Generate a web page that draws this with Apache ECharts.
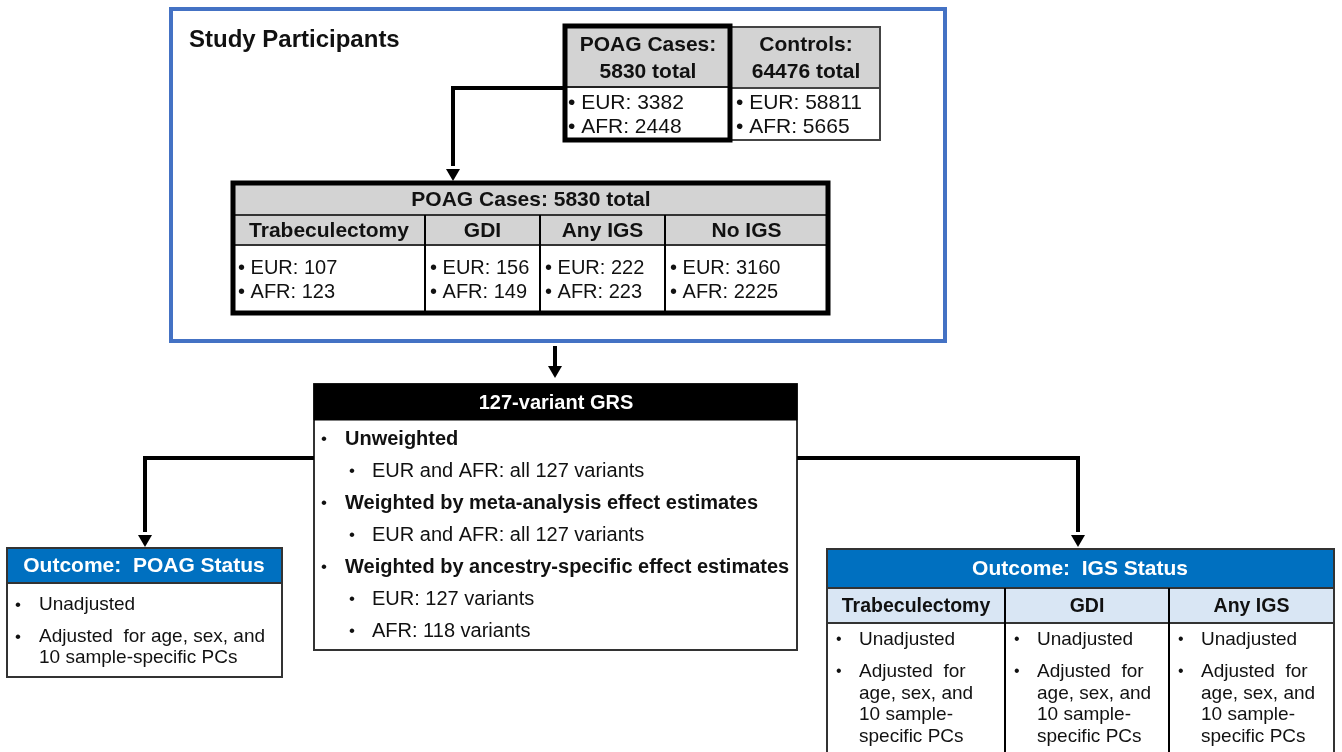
<!DOCTYPE html>
<html>
<head>
<meta charset="utf-8">
<script src="https://cdn.jsdelivr.net/npm/echarts@6/dist/echarts.min.js"></script>
<style>
  html, body { margin: 0; padding: 0; background: #fff; }
  #chart { width: 1342px; height: 752px; }
</style>
</head>
<body>
<div id="chart"></div>
<script>
// ---- data (text of the flow chart) ----
const studyTitle = 'Study Participants';
const caseHeader = ['POAG Cases:', '5830 total'];
const caseCounts = ['EUR: 3382', 'AFR: 2448'];
const controlHeader = ['Controls:', '64476 total'];
const controlCounts = ['EUR: 58811', 'AFR: 5665'];
const subgroupTitle = 'POAG Cases: 5830 total';
const subgroups = ['Trabeculectomy', 'GDI', 'Any IGS', 'No IGS'];
const subgroupEUR = [107, 156, 222, 3160];
const subgroupAFR = [123, 149, 223, 2225];
const grsTitle = '127-variant GRS';
const grsLevels = [0, 1, 0, 1, 0, 1, 1];
const grsItems = [
  'Unweighted',
  'EUR and AFR: all 127 variants',
  'Weighted by meta-analysis effect estimates',
  'EUR and AFR: all 127 variants',
  'Weighted by ancestry-specific effect estimates',
  'EUR: 127 variants',
  'AFR: 118 variants'
];
const poagTitle = 'Outcome:  POAG Status';
const poagItems = ['Unadjusted', 'Adjusted  for age, sex, and\n10 sample-specific PCs'];
const igsTitle = 'Outcome:  IGS Status';
const igsGroups = ['Trabeculectomy', 'GDI', 'Any IGS'];
const igsItems = ['Unadjusted', 'Adjusted  for\nage, sex, and\n10 sample-\nspecific PCs'];

// ---- drawing helpers ----
const FONT = '"Liberation Sans", Arial, sans-serif';
const els = [];

function rect(x, y, w, h, fill, stroke, lw) {
  els.push({
    type: 'rect', shape: { x: x, y: y, width: w, height: h },
    style: { fill: fill || 'none', stroke: stroke || null, lineWidth: lw || 0 }
  });
}
function line(points, lw) {
  els.push({ type: 'polyline', shape: { points: points }, style: { stroke: '#000', lineWidth: lw || 4, fill: null } });
}
function arrowDown(x, tipY, size) {
  const s = size || 8;
  els.push({ type: 'polygon', shape: { points: [[x - s, tipY - s * 1.7], [x + s, tipY - s * 1.7], [x, tipY]] }, style: { fill: '#000' } });
}
function text(x, y, str, font, color, align) {
  els.push({
    type: 'text', z: 10,
    style: { x: x, y: y, text: str, font: font + ' ' + FONT, fill: color || '#111', textAlign: align || 'left', textVerticalAlign: 'middle' }
  });
}
function multi(x, y, str, font, color, lh) {
  str.split('\n').forEach((s, i) => text(x, y + i * lh, s, font, color));
}

// ---- study participants frame ----
rect(171, 9, 774, 332, '#fff', '#4472C4', 4);
text(189, 40, studyTitle, 'bold 24px', '#111');

// controls box
rect(731, 27, 149, 113, '#fff', '#444', 2);
rect(731, 27, 149, 61, '#D3D3D3', '#444', 2);
text(806, 45, controlHeader[0], 'bold 21px', '#111', 'center');
text(806, 72, controlHeader[1], 'bold 21px', '#111', 'center');
text(736, 103, '• ' + controlCounts[0], '21px');
text(736, 127, '• ' + controlCounts[1], '21px');

// cases box
rect(565, 26, 165, 114, '#fff', null, 0);
rect(565, 26, 165, 61, '#D3D3D3', '#222', 2);
rect(565, 26, 165, 114, 'none', '#000', 5);
text(648, 45, caseHeader[0], 'bold 21px', '#111', 'center');
text(648, 72, caseHeader[1], 'bold 21px', '#111', 'center');
text(568, 103, '• ' + caseCounts[0], '21px');
text(568, 127, '• ' + caseCounts[1], '21px');

// connector to subgroup table
line([[563, 88], [453, 88], [453, 166]], 4);
arrowDown(453, 181, 7);

// subgroup table
const colX = [233, 425, 540, 665, 828];
rect(233, 183, 595, 130, '#fff', null, 0);
rect(233, 183, 595, 32, '#D3D3D3', '#333', 2);
rect(233, 215, 595, 30, '#D3D3D3', '#333', 2);
for (let i = 1; i < 4; i++) line([[colX[i], 215], [colX[i], 313]], 2);
rect(233, 183, 595, 130, 'none', '#000', 5);
text(531, 200, subgroupTitle, 'bold 21px', '#111', 'center');
subgroups.forEach((g, i) => {
  const cx = (colX[i] + colX[i + 1]) / 2;
  text(cx, 231, g, 'bold 21px', '#111', 'center');
  text(colX[i] + 5, 268, '• EUR: ' + subgroupEUR[i], '20px');
  text(colX[i] + 5, 292, '• AFR: ' + subgroupAFR[i], '20px');
});

// arrow to GRS
line([[555, 346], [555, 366]], 4);
arrowDown(555, 378, 7);

// GRS box
rect(314, 384, 483, 266, '#fff', '#333', 2);
rect(314, 384, 483, 36, '#000', '#000', 1);
text(556, 403, grsTitle, 'bold 20px', '#fff', 'center');
grsItems.forEach((s, i) => {
  const y = 439 + i * 32;
  const lv = grsLevels[i];
  text(lv ? 349 : 321, y, '•', '17px');
  text(lv ? 372 : 345, y, s, (lv ? '' : 'bold ') + '20px');
});

// connectors to outcomes
line([[314, 458], [145, 458], [145, 532]], 4);
arrowDown(145, 547, 7);
line([[797, 458], [1078, 458], [1078, 532]], 4);
arrowDown(1078, 547, 7);

// POAG outcome box
rect(7, 548, 275, 129, '#fff', '#333', 2);
rect(7, 548, 275, 35, '#0070C0', '#333', 2);
text(144, 566, poagTitle, 'bold 21px', '#fff', 'center');
[605, 637].forEach((y, i) => {
  text(15, y, '•', '17px');
  multi(39, y, poagItems[i], '19px', '#111', 21);
});

// IGS outcome box
const igsX = [827, 1005, 1169, 1334];
rect(827, 549, 507, 215, '#fff', '#333', 2);
rect(827, 549, 507, 39, '#0070C0', '#333', 2);
rect(827, 588, 507, 35, '#D9E6F4', '#333', 2);
for (let i = 1; i < 3; i++) line([[igsX[i], 588], [igsX[i], 760]], 2);
text(1080, 569, igsTitle, 'bold 21px', '#fff', 'center');
igsGroups.forEach((g, i) => {
  const cx = (igsX[i] + igsX[i + 1]) / 2;
  text(cx, 607, g, 'bold 19.5px', '#111', 'center');
  [640, 672].forEach((y, k) => {
    text(igsX[i] + 9, y, '•', '16px');
    multi(igsX[i] + 32, y, igsItems[k], '19px', '#111', 21.5);
  });
});

const chart = echarts.init(document.getElementById('chart'));
chart.setOption({
  backgroundColor: '#fff',
  animation: false,
  graphic: { elements: els }
});
window.addEventListener('resize', function () { chart.resize(); });
</script>
</body>
</html>
